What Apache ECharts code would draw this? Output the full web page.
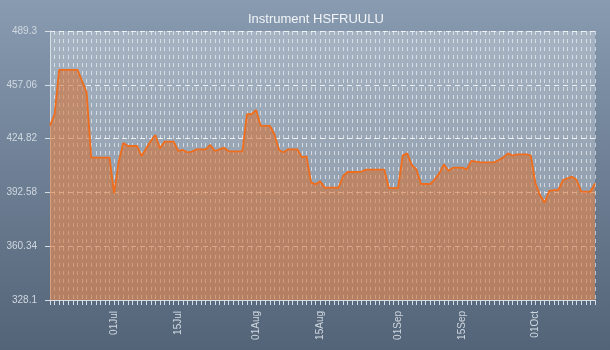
<!DOCTYPE html>
<html>
<head>
<meta charset="utf-8">
<title>Instrument HSFRUULU</title>
<script src="https://cdn.jsdelivr.net/npm/echarts@6/dist/echarts.min.js"></script>
<style>
  html, body { margin: 0; padding: 0; }
  #chart { width: 610px; height: 350px; }
</style>
</head>
<body>
<div id="chart"></div>
<script>
// Daily closing levels, starting 17 June
const startDate = Date.UTC(2013, 5, 17);
const values = [
  432.6, 439.4, 466, 466, 466, 466, 466, 459.5, 452.6, 413.4,
  413.4, 413.4, 413.4, 413.4, 392, 411, 422.2, 420.4, 420.4, 420.4,
  414.4, 419, 423.4, 427, 419, 423, 423, 423, 417.4, 418,
  416.6, 417, 418.4, 418.4, 418.4, 421, 417.4, 418.4, 419.4, 417.2,
  417.2, 417.2, 417.2, 439.4, 439.4, 442, 432.5, 432.5, 432.5, 427.4,
  418, 416.6, 418.4, 418.4, 418.4, 413.6, 414.2, 398.6, 397.4, 399.2,
  395.4, 395.4, 395.4, 395.4, 402.4, 404.8, 404.8, 404.8, 405, 406.2,
  406.2, 406.2, 406.2, 406.2, 395.2, 395.2, 395.2, 414.6, 416, 409,
  406.4, 397.6, 397.6, 397.6, 400.4, 404, 409.4, 405.6, 407.4, 407.4,
  407.4, 406.4, 411.5, 411, 410.6, 410.6, 410.6, 410.6, 412, 413.6,
  416, 414.6, 415.4, 415.4, 415.4, 414.6, 398, 391, 386.4, 393.5,
  394, 394, 400, 401, 402, 400, 393, 393, 393, 398
];
const yTicks = [328.1, 360.34, 392.58, 424.82, 457.06, 489.3];
const monthNames = ['Jan', 'Feb', 'Mar', 'Apr', 'May', 'Jun', 'Jul', 'Aug', 'Sep', 'Oct', 'Nov', 'Dec'];

// One category per calendar day
const categories = values.map((_, i) => {
  const d = new Date(startDate + i * 86400000);
  return d.toISOString().slice(0, 10);
});

function dayLabel(iso) {
  const d = new Date(iso + 'T00:00:00Z');
  const day = String(d.getUTCDate()).padStart(2, '0');
  return day + monthNames[d.getUTCMonth()];
}

const chart = echarts.init(document.getElementById('chart'), null, { renderer: 'canvas' });
chart.setOption({
  animation: false,
  backgroundColor: {
    type: 'linear', x: 0, y: 0, x2: 0, y2: 1,
    colorStops: [
      { offset: 0, color: '#889bb0' },
      { offset: 1, color: '#536378' }
    ]
  },
  textStyle: { fontFamily: 'Liberation Sans, Arial, sans-serif' },
  title: {
    text: 'Instrument HSFRUULU',
    left: 243,
    top: 8,
    textStyle: { color: '#f2f5f8', fontSize: 13, fontWeight: 'normal' }
  },
  grid: {
    left: 50, right: 15, top: 31, bottom: 50,
    show: true,
    backgroundColor: 'rgba(255,255,255,0.28)',
    borderWidth: 0
  },
  xAxis: {
    type: 'category',
    data: categories,
    boundaryGap: false,
    axisLine: { show: true, lineStyle: { color: '#d6dde4', width: 1 } },
    axisTick: { show: true, interval: 0, length: 5, lineStyle: { color: '#d6dde4' } },
    axisLabel: {
      rotate: 90,
      fontSize: 10,
      color: '#d0d8e0',
      margin: 11,
      interval: (idx, val) => {
        const day = Number(val.slice(8, 10));
        return day === 1 || day === 15;
      },
      formatter: (val) => dayLabel(val)
    },
    splitLine: {
      show: true,
      interval: 0,
      lineStyle: { color: 'rgba(255,255,255,0.58)', type: [4, 4], width: 1 }
    }
  },
  yAxis: {
    type: 'value',
    min: 328.1,
    max: 489.3,
    axisLine: { show: true, lineStyle: { color: '#d6dde4', width: 1 } },
    axisTick: { show: true, length: 5, customValues: yTicks, lineStyle: { color: '#d6dde4' } },
    axisLabel: {
      fontSize: 10,
      color: '#d0d8e0',
      margin: 13,
      customValues: yTicks,
      formatter: (v) => String(+v.toFixed(2))
    },
    splitLine: {
      show: true,
      lineStyle: { color: 'rgba(255,255,255,0.8)', type: [5, 4], width: 1 }
    }
  },
  series: [{
    type: 'line',
    data: values,
    symbol: 'none',
    lineStyle: { color: '#f06d1c', width: 1.8 },
    areaStyle: { color: 'rgba(214,112,50,0.8)', origin: 'start' }
  }]
});
</script>
</body>
</html>
